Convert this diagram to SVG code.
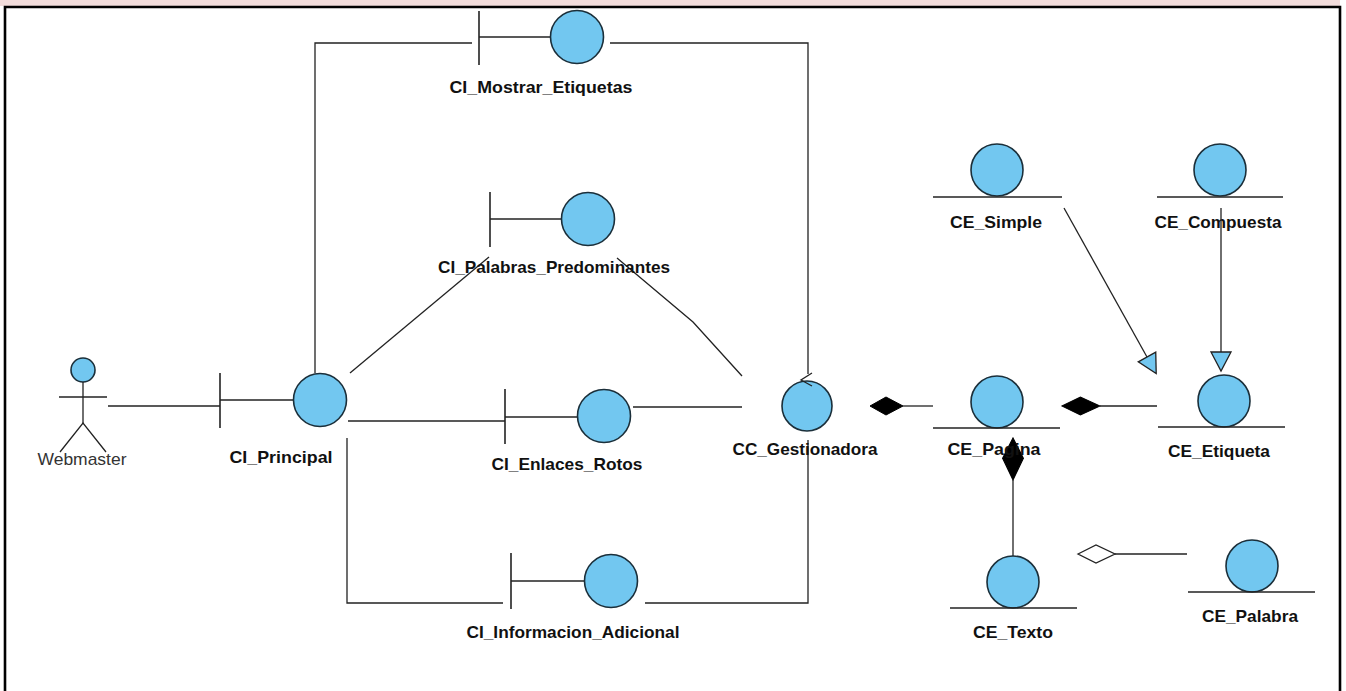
<svg xmlns="http://www.w3.org/2000/svg" width="1346" height="691" viewBox="0 0 1346 691">
  <style>
    .lbl { font-family: "Liberation Sans", Arial, sans-serif; font-size: 17px; font-weight: bold; fill: #111; text-anchor: middle; }
    .actor-lbl { font-family: "Liberation Sans", Arial, sans-serif; font-size: 17px; fill: #333; text-anchor: middle; }
    .obj { fill: #72C7F0; stroke: #1b2f3a; stroke-width: 1.6; }
    .ln { fill: none; stroke: #222; stroke-width: 1.3; }
    .bar { fill: none; stroke: #222; stroke-width: 1.6; }
    .frame { fill: none; stroke: #000; stroke-width: 2.6; }
  </style>
  <defs>
    <!-- filled composition diamond, pointing along +x from its left tip at the origin -->
    <polygon id="comp" points="0,0 16,-9 33,0 16,9" fill="#000" stroke="#000" stroke-width="1"/>
    <polygon id="aggr" points="0,0 18,-9 37,0 18,9" fill="#fff" stroke="#222" stroke-width="1.3"/>
    <polygon id="gen" points="-10,0 10,0 0,19" fill="#72C7F0" stroke="#222" stroke-width="1.3"/>
  </defs>

  <!-- page frame -->
  <rect x="0" y="0" width="1340" height="6" fill="#F2DCDB"/>
  <path class="frame" d="M5,691 V7 H1340 V691"/>

  <!-- connectors -->
  <g id="connectors">
    <line class="ln" x1="108" y1="406" x2="220" y2="406"/>
    <polyline class="ln" points="315,373 315,43 472,43"/>
    <polyline class="ln" points="610,43 808,43 808,374"/>
    <line class="ln" x1="350" y1="373" x2="489" y2="257"/>
    <polyline class="ln" points="617,258 693,322 742,376"/>
    <line class="ln" x1="348" y1="421" x2="505" y2="421"/>
    <line class="ln" x1="633" y1="407" x2="742" y2="407"/>
    <polyline class="ln" points="347,438 347,603 503,603"/>
    <polyline class="ln" points="645,603 808,603 808,440"/>
    <!-- CC_Gestionadora - CE_Pagina -->
    <use href="#comp" x="870" y="406"/>
    <line class="ln" x1="903" y1="406" x2="933" y2="406"/>
    <!-- CE_Pagina - CE_Etiqueta -->
    <use href="#comp" transform="translate(1062,406) scale(1.15,1)"/>
    <line class="ln" x1="1100" y1="406" x2="1157" y2="406"/>
    <!-- CE_Pagina - CE_Texto -->
    <use href="#comp" transform="translate(1013,438) rotate(90) scale(1.27,1.15)"/>
    <line class="ln" x1="1013" y1="480" x2="1013" y2="556"/>
    <!-- CE_Texto - CE_Palabra -->
    <use href="#aggr" x="1078" y="554"/>
    <line class="ln" x1="1115" y1="554" x2="1187" y2="554"/>
    <!-- generalizations to CE_Etiqueta -->
    <line class="ln" x1="1064" y1="208" x2="1147" y2="357"/>
    <use href="#gen" transform="translate(1147,357) rotate(-29)"/>
    <line class="ln" x1="1221" y1="208" x2="1221" y2="352"/>
    <use href="#gen" transform="translate(1221,352)"/>
  </g>

  <!-- actor -->
  <g id="Webmaster">
    <circle class="obj" cx="83" cy="370" r="12"/>
    <line class="ln" x1="83" y1="382" x2="83" y2="423"/>
    <line class="ln" x1="59" y1="397" x2="107" y2="397"/>
    <polyline class="ln" points="60,452 83,423 106,452"/>
    <text class="actor-lbl" x="82" y="465" textLength="89" lengthAdjust="spacingAndGlyphs">Webmaster</text>
  </g>

  <!-- boundary objects -->
  <g id="CI_Principal">
    <line class="bar" x1="220" y1="373" x2="220" y2="428"/>
    <line class="ln" x1="220" y1="400" x2="294" y2="400"/>
    <circle class="obj" cx="320" cy="400" r="26.5"/>
    <text class="lbl" x="281" y="463" textLength="103" lengthAdjust="spacingAndGlyphs">CI_Principal</text>
  </g>

  <g id="CI_Mostrar_Etiquetas">
    <line class="bar" x1="479" y1="11" x2="479" y2="65"/>
    <line class="ln" x1="479" y1="37" x2="551" y2="37"/>
    <circle class="obj" cx="577" cy="37" r="26.5"/>
    <text class="lbl" x="541" y="93" textLength="183" lengthAdjust="spacingAndGlyphs">CI_Mostrar_Etiquetas</text>
  </g>

  <g id="CI_Palabras_Predominantes">
    <line class="bar" x1="490" y1="192" x2="490" y2="247"/>
    <line class="ln" x1="490" y1="219" x2="562" y2="219"/>
    <circle class="obj" cx="588" cy="219" r="26.5"/>
    <text class="lbl" x="554" y="273" textLength="232" lengthAdjust="spacingAndGlyphs">CI_Palabras_Predominantes</text>
  </g>

  <g id="CI_Enlaces_Rotos">
    <line class="bar" x1="505" y1="389" x2="505" y2="444"/>
    <line class="ln" x1="505" y1="417" x2="578" y2="417"/>
    <circle class="obj" cx="604" cy="416" r="26.5"/>
    <text class="lbl" x="567" y="470" textLength="151" lengthAdjust="spacingAndGlyphs">CI_Enlaces_Rotos</text>
  </g>

  <g id="CI_Informacion_Adicional">
    <line class="bar" x1="511" y1="553" x2="511" y2="609"/>
    <line class="ln" x1="511" y1="581" x2="585" y2="581"/>
    <circle class="obj" cx="611" cy="581" r="26.5"/>
    <text class="lbl" x="573" y="638" textLength="213" lengthAdjust="spacingAndGlyphs">CI_Informacion_Adicional</text>
  </g>

  <!-- control object -->
  <g id="CC_Gestionadora">
    <circle class="obj" cx="807" cy="406" r="25"/>
    <polyline class="ln" points="812,373 801,380 812,386"/>
    <text class="lbl" x="805" y="455" textLength="145" lengthAdjust="spacingAndGlyphs">CC_Gestionadora</text>
  </g>

  <!-- entity objects -->
  <g id="CE_Simple">
    <circle class="obj" cx="997" cy="170" r="26"/>
    <line class="ln" x1="933" y1="197" x2="1062" y2="197"/>
    <text class="lbl" x="996" y="228" textLength="92" lengthAdjust="spacingAndGlyphs">CE_Simple</text>
  </g>

  <g id="CE_Compuesta">
    <circle class="obj" cx="1220" cy="170" r="26"/>
    <line class="ln" x1="1157" y1="197" x2="1283" y2="197"/>
    <text class="lbl" x="1218" y="228" textLength="127" lengthAdjust="spacingAndGlyphs">CE_Compuesta</text>
  </g>

  <g id="CE_Pagina">
    <circle class="obj" cx="997" cy="402" r="26"/>
    <line class="ln" x1="933" y1="428" x2="1060" y2="428"/>
    <text class="lbl" x="994" y="455" textLength="93" lengthAdjust="spacingAndGlyphs">CE_Pagina</text>
  </g>

  <g id="CE_Etiqueta">
    <circle class="obj" cx="1224" cy="401" r="26"/>
    <line class="ln" x1="1158" y1="427" x2="1285" y2="427"/>
    <text class="lbl" x="1219" y="457" textLength="102" lengthAdjust="spacingAndGlyphs">CE_Etiqueta</text>
  </g>

  <g id="CE_Texto">
    <circle class="obj" cx="1013" cy="582" r="26"/>
    <line class="ln" x1="950" y1="608" x2="1077" y2="608"/>
    <text class="lbl" x="1013" y="638" textLength="80" lengthAdjust="spacingAndGlyphs">CE_Texto</text>
  </g>

  <g id="CE_Palabra">
    <circle class="obj" cx="1252" cy="566" r="26"/>
    <line class="ln" x1="1188" y1="592" x2="1315" y2="592"/>
    <text class="lbl" x="1250" y="622" textLength="96" lengthAdjust="spacingAndGlyphs">CE_Palabra</text>
  </g>
</svg>
